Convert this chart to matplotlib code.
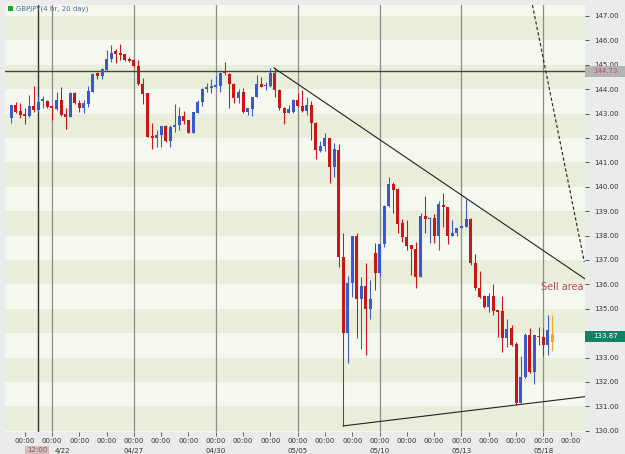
import matplotlib
matplotlib.use("Agg")
import matplotlib.pyplot as plt
import matplotlib.transforms as mtransforms
from matplotlib.patches import Rectangle

# GBPJPY 4 hr bars, bar 0 .. 119
opens = [142.80, 143.36, 143.12, 142.99, 142.91, 143.32, 143.15, 143.53, 143.53, 143.32,
         143.18, 143.56, 142.97, 142.85, 143.86, 143.42, 143.22, 143.40, 143.90, 144.65,
         144.52, 144.79, 145.23, 145.58, 145.47, 145.44, 145.23, 145.20, 144.95, 144.21,
         143.83, 142.08, 141.99, 142.12, 142.49, 141.89, 142.44, 142.53, 142.90, 142.74,
         142.22, 143.04, 143.49, 143.99, 144.06, 144.08, 144.13, 144.72, 144.62, 144.21,
         143.63, 143.90, 143.08, 143.18, 143.69, 144.21, 144.13, 144.13, 144.68, 143.97,
         143.22, 143.04, 143.08, 143.56, 143.31, 143.12, 143.35, 142.63, 141.48, 141.67,
         141.99, 140.80, 141.51, 137.11, 134.00, 136.05, 137.98, 135.39, 135.93, 134.98,
         137.30, 136.45, 137.66, 139.21, 140.11, 139.90, 138.50, 137.93, 137.61, 137.44,
         136.32, 138.80, 138.67, 138.71, 137.98, 139.25, 139.19, 137.98, 138.09, 138.30,
         138.37, 138.67, 136.89, 135.84, 135.53, 135.06, 135.53, 134.95, 134.92, 133.79,
         134.20, 133.56, 131.15, 132.22, 133.93, 132.42, 133.89, 133.83, 133.52, 133.62]
highs = [143.35, 143.49, 143.43, 143.22, 143.77, 144.11, 143.70, 143.72, 143.56, 143.32,
         143.90, 144.08, 143.22, 143.90, 143.90, 143.56, 143.56, 144.11, 144.65, 144.72,
         144.86, 145.61, 145.81, 145.64, 145.85, 145.44, 145.31, 145.23, 145.20, 144.45,
         143.83, 142.63, 142.33, 142.49, 142.53, 142.53, 143.39, 143.26, 143.12, 142.74,
         143.08, 143.56, 144.04, 144.27, 144.40, 144.54, 144.72, 145.13, 144.68, 144.24,
         143.99, 144.04, 143.22, 143.69, 144.58, 144.51, 144.31, 144.86, 144.86, 144.00,
         143.28, 143.35, 143.58, 143.83, 143.97, 143.69, 143.53, 142.67, 141.89, 142.19,
         141.99, 141.78, 141.75, 138.12, 136.35, 137.98, 138.12, 136.29, 136.86, 136.18,
         137.71, 137.71, 139.25, 140.42, 140.21, 139.94, 138.67, 138.64, 137.61, 137.75,
         138.91, 139.62, 138.78, 138.89, 139.42, 139.73, 139.19, 138.64, 138.32, 138.39,
         139.49, 138.71, 137.25, 136.56, 135.57, 135.63, 136.02, 134.95, 135.53, 134.57,
         134.34, 133.65, 133.07, 133.99, 134.20, 133.97, 134.27, 134.20, 134.75, 134.75]
lows = [142.60, 143.01, 142.81, 142.56, 142.85, 143.08, 143.08, 143.22, 143.22, 142.74,
        143.15, 142.91, 142.37, 142.85, 143.40, 143.08, 143.04, 143.29, 143.87, 144.41,
        144.41, 144.76, 145.13, 145.06, 145.20, 145.17, 145.12, 144.92, 144.18, 143.40,
        142.03, 141.54, 141.62, 141.65, 141.85, 141.65, 142.26, 142.33, 142.57, 142.19,
        142.19, 143.01, 143.31, 143.90, 143.86, 144.08, 143.90, 144.58, 143.22, 143.42,
        143.42, 143.04, 142.94, 142.90, 143.67, 144.08, 143.97, 144.10, 143.69, 143.15,
        142.57, 143.04, 143.04, 143.28, 143.08, 142.94, 141.92, 141.13, 141.44, 141.48,
        140.17, 140.42, 136.73, 130.20, 132.79, 135.50, 133.79, 133.34, 133.11, 134.57,
        135.77, 136.34, 137.55, 139.18, 138.94, 138.09, 137.75, 137.41, 136.39, 135.84,
        136.32, 138.12, 137.71, 137.68, 137.40, 138.37, 137.66, 137.98, 137.98, 138.30,
        138.37, 136.80, 135.77, 135.43, 135.02, 134.88, 134.75, 133.86, 133.24, 133.45,
        133.48, 131.06, 131.15, 132.15, 132.38, 131.92, 133.52, 133.07, 133.11, 133.29]
closes = [143.35, 143.08, 142.95, 142.92, 143.32, 143.15, 143.49, 143.57, 143.29, 143.21,
          143.56, 142.95, 142.85, 143.86, 143.42, 143.22, 143.42, 143.93, 144.63, 144.52,
          144.82, 145.23, 145.50, 145.44, 145.40, 145.20, 145.17, 144.95, 144.21, 143.80,
          142.06, 141.99, 142.12, 142.49, 141.89, 142.44, 142.53, 142.90, 142.71, 142.22,
          143.08, 143.49, 143.99, 144.08, 144.10, 144.17, 144.68, 144.65, 144.21, 143.63,
          143.90, 143.08, 143.22, 143.69, 144.21, 144.10, 144.17, 144.68, 143.97, 143.22,
          143.04, 143.18, 143.56, 143.31, 143.12, 143.35, 142.63, 141.51, 141.67, 141.99,
          140.80, 141.54, 137.11, 134.00, 136.05, 137.98, 135.39, 135.93, 134.98, 135.39,
          136.45, 137.66, 139.21, 140.11, 139.87, 138.48, 137.93, 137.57, 137.44, 136.32,
          138.80, 138.67, 138.72, 137.98, 139.30, 139.16, 137.98, 138.12, 138.32, 138.39,
          138.67, 136.89, 135.84, 135.50, 135.06, 135.53, 134.92, 134.88, 133.79, 134.16,
          133.52, 131.15, 132.22, 133.93, 132.42, 133.93, 133.83, 133.52, 134.13, 133.96]

# 00:00 bars and the dated ones
day_bars = list(range(3, 124, 6))
date_bars = [9, 27, 45, 63, 81, 99, 117]
date_labels = ["4/22", "04/27", "04/30", "05/05", "05/10", "05/13", "05/18"]
price_ticks = list(range(130, 148))

cursor_bar, cursor_price = 6, 144.73
last_price = 133.87

# drawn lines
resist_x, resist_y = [57.8, 126.2], [144.87, 136.22]
support_x, support_y = [73.0, 126.2], [130.20, 131.40]
dash_x, dash_y = [114.6, 126.0], [147.45, 136.92]

RED, BLUE, ORANGE = "#d01414", "#3a58d2", "#f0a431"

fig = plt.figure(figsize=(6.25, 4.54), dpi=100, facecolor="#ebebeb")
ax = fig.add_axes([5 / 625, 22 / 454, 580 / 625, 427 / 454])
ax.set_facecolor("#f5f8ee")
ax.set_xlim(-1.32, 126.15)
ax.set_ylim(129.95, 147.45)

for k in range(130, 148, 2):
    ax.axhspan(k, k + 1, color="#e8eed9", lw=0, zorder=0)

for b in date_bars:
    ax.axvline(b, color="#8c8c8c", lw=0.9, zorder=1)
ax.axvline(cursor_bar, color="#333333", lw=1.0, zorder=1)
ax.axhline(cursor_price, color="#444444", lw=1.0, zorder=1)

x = list(range(len(opens)))
colors = [BLUE if c >= o else RED for o, c in zip(opens, closes)]
colors[-1] = ORANGE
ax.vlines(x, lows, highs, colors=colors, lw=0.75, zorder=2)
bottoms = [min(o, c) for o, c in zip(opens, closes)]
heights = [max(abs(c - o), 0.05) for o, c in zip(opens, closes)]
ax.bar(x, heights, bottom=bottoms, width=0.66, color=colors, lw=0, zorder=3)

ax.plot(resist_x, resist_y, color="#222222", lw=0.8, zorder=4)
ax.plot(support_x, support_y, color="#222222", lw=0.8, zorder=4)
ax.plot(dash_x, dash_y, color="#222222", lw=0.8, ls=(0, (3, 2)), zorder=4)
ax.text(116.5, 135.89, "Sell area", color="#b5474b", fontsize=7,
        ha="left", va="center", zorder=5)

for s in ax.spines.values():
    s.set_visible(False)

ax.set_xticks(day_bars)
ax.set_xticklabels(["00:00"] * len(day_bars), fontsize=5, color="#333333")
ax.tick_params(axis="x", length=3, width=0.7, color="#666666", pad=1.5)
ax.yaxis.tick_right()
ax.set_yticks(price_ticks)
ax.set_yticklabels([f"{p:.2f}" for p in price_ticks], fontsize=5, color="#333333")
ax.tick_params(axis="y", length=3, width=0.7, color="#555555", pad=3.5)

trans = mtransforms.blended_transform_factory(ax.transData, fig.transFigure)
for b, lab in zip(date_bars, date_labels):
    ha = "left" if lab == "4/22" else "center"
    ax.text(b + (0.6 if ha == "left" else 0), 3.5 / 454, lab, transform=trans,
            fontsize=5, color="#333333", ha=ha, va="center")
# cursor time label
fig.text(37 / 625, 3.5 / 454, "12:00", fontsize=5, color="#7a5a5a",
         ha="center", va="center", zorder=6,
         bbox=dict(boxstyle="square,pad=0.2", fc="#d8bcbc", ec="none"))

# highlighted price labels on the right
def price_box(price, face, fg):
    ypix = 16 + (147 - price) * 24.4
    fig.patches.append(Rectangle((585 / 625, 1 - (ypix + 5.5) / 454), 40 / 625, 11 / 454,
                                 transform=fig.transFigure, color=face, lw=0, zorder=5))
    fig.text(593 / 625, 1 - ypix / 454, f"{price:.2f}", fontsize=5, color=fg,
             ha="left", va="center", zorder=6)

price_box(cursor_price, "#b4b4b4", "#c0506a")
price_box(last_price, "#13806a", "white")

# title
fig.patches.append(Rectangle((8 / 625, 1 - 11 / 454), 5 / 625, 5 / 454,
                             transform=fig.transFigure, color="#22a822", lw=0))
fig.text(16 / 625, 1 - 8.5 / 454, "GBPJPY(4 hr, 20 day)", fontsize=5,
         color="#4a6a9a", ha="left", va="center")

fig.savefig("out.png", dpi=100, facecolor=fig.get_facecolor())
